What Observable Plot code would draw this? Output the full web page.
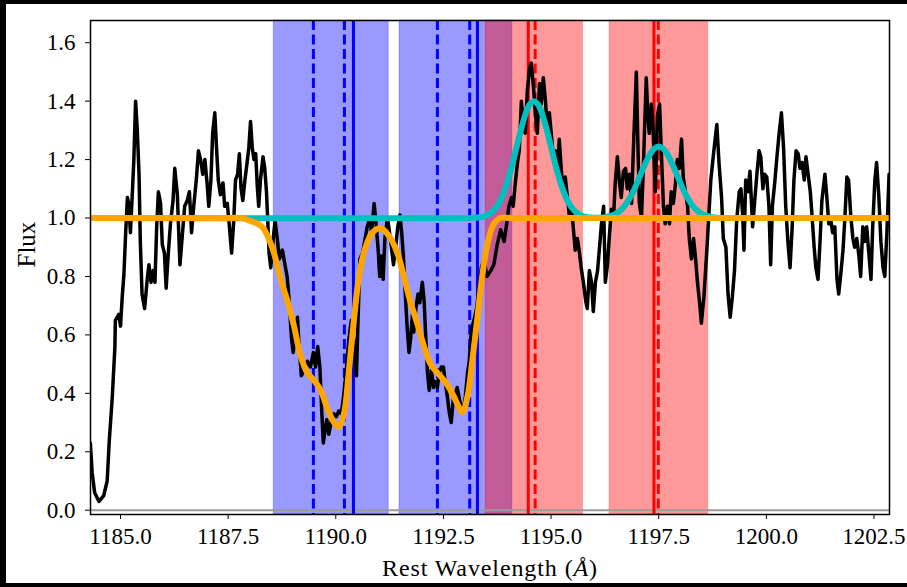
<!DOCTYPE html>
<html><head><meta charset="utf-8">
<script src="https://cdn.jsdelivr.net/npm/d3@7"></script>
<script src="https://cdn.jsdelivr.net/npm/@observablehq/plot@0.6"></script>
<style>
html,body{margin:0;padding:0;background:#000;}
body{width:907px;height:587px;overflow:hidden;position:relative;}
#chart{position:absolute;left:6px;top:4px;width:901px;height:579px;background:#fff;}
#chart svg{display:block;}
#chart svg, #chart svg text, #chart svg g{font-family:'Liberation Serif','Times New Roman',serif !important;}
</style></head><body><div id="chart"></div>
<script>
// Observed spectrum
const specWave = [1184.30,1184.34,1184.40,1184.50,1184.61,1184.69,1184.74,1184.81,1184.87,1184.88,1184.96,1185.00,1185.04,1185.08,1185.12,1185.16,1185.19,1185.23,1185.27,1185.31,1185.35,1185.39,1185.43,1185.46,1185.50,1185.56,1185.62,1185.66,1185.71,1185.76,1185.80,1185.84,1185.88,1185.93,1185.97,1186.02,1186.06,1186.11,1186.16,1186.22,1186.26,1186.32,1186.38,1186.43,1186.49,1186.55,1186.60,1186.65,1186.70,1186.76,1186.81,1186.86,1186.91,1186.96,1187.01,1187.05,1187.10,1187.14,1187.19,1187.23,1187.27,1187.32,1187.38,1187.42,1187.48,1187.53,1187.58,1187.63,1187.67,1187.72,1187.76,1187.80,1187.84,1187.89,1187.94,1187.98,1188.02,1188.06,1188.10,1188.14,1188.18,1188.21,1188.25,1188.31,1188.35,1188.39,1188.42,1188.45,1188.49,1188.54,1188.59,1188.64,1188.69,1188.76,1188.82,1188.87,1188.91,1188.97,1189.01,1189.07,1189.11,1189.14,1189.20,1189.26,1189.34,1189.41,1189.48,1189.53,1189.58,1189.63,1189.67,1189.71,1189.75,1189.79,1189.84,1189.90,1189.96,1190.01,1190.07,1190.13,1190.19,1190.25,1190.30,1190.36,1190.42,1190.48,1190.51,1190.56,1190.62,1190.67,1190.73,1190.79,1190.83,1190.89,1190.93,1190.98,1191.02,1191.06,1191.10,1191.14,1191.20,1191.24,1191.29,1191.34,1191.39,1191.44,1191.49,1191.53,1191.57,1191.61,1191.66,1191.70,1191.74,1191.78,1191.81,1191.86,1191.91,1191.95,1192.01,1192.05,1192.09,1192.13,1192.17,1192.22,1192.27,1192.31,1192.36,1192.40,1192.45,1192.50,1192.54,1192.59,1192.64,1192.68,1192.73,1192.78,1192.82,1192.87,1192.92,1192.96,1193.01,1193.06,1193.10,1193.15,1193.21,1193.27,1193.32,1193.38,1193.44,1193.51,1193.60,1193.67,1193.75,1193.83,1193.91,1193.97,1194.02,1194.08,1194.12,1194.17,1194.22,1194.26,1194.31,1194.36,1194.40,1194.45,1194.50,1194.54,1194.59,1194.64,1194.68,1194.73,1194.77,1194.82,1194.87,1194.91,1194.96,1195.01,1195.05,1195.10,1195.15,1195.19,1195.24,1195.29,1195.33,1195.38,1195.43,1195.47,1195.52,1195.56,1195.61,1195.66,1195.70,1195.75,1195.80,1195.84,1195.89,1195.94,1195.98,1196.03,1196.08,1196.12,1196.17,1196.22,1196.26,1196.31,1196.35,1196.40,1196.45,1196.49,1196.54,1196.59,1196.63,1196.68,1196.73,1196.77,1196.82,1196.87,1196.91,1196.98,1197.02,1197.05,1197.10,1197.14,1197.21,1197.25,1197.28,1197.33,1197.37,1197.42,1197.47,1197.52,1197.56,1197.61,1197.65,1197.70,1197.75,1197.79,1197.84,1197.89,1197.93,1197.98,1198.03,1198.07,1198.12,1198.17,1198.21,1198.26,1198.31,1198.35,1198.40,1198.45,1198.49,1198.55,1198.63,1198.71,1198.78,1198.85,1198.90,1198.96,1199.00,1199.06,1199.11,1199.16,1199.21,1199.26,1199.31,1199.37,1199.41,1199.45,1199.48,1199.52,1199.57,1199.62,1199.68,1199.73,1199.78,1199.83,1199.87,1199.92,1199.96,1200.01,1200.06,1200.10,1200.14,1200.20,1200.24,1200.29,1200.35,1200.40,1200.45,1200.50,1200.55,1200.60,1200.64,1200.69,1200.74,1200.78,1200.83,1200.88,1200.92,1200.97,1201.02,1201.06,1201.11,1201.15,1201.20,1201.25,1201.29,1201.36,1201.40,1201.45,1201.50,1201.54,1201.59,1201.64,1201.68,1201.73,1201.78,1201.82,1201.87,1201.91,1201.96,1202.01,1202.05,1202.10,1202.15,1202.19,1202.24,1202.29,1202.33,1202.38,1202.43,1202.47,1202.52,1202.56,1202.61,1202.66,1202.71,1202.75,1202.80,1202.85];
const specFlux = [0.23,0.13,0.06,0.03,0.05,0.10,0.24,0.39,0.56,0.65,0.67,0.63,0.73,0.81,0.95,1.07,1.05,0.95,1.07,1.20,1.40,1.30,1.15,0.92,0.74,0.69,0.79,0.84,0.78,0.82,0.78,0.97,1.09,1.05,0.91,0.88,0.76,0.88,0.98,1.06,1.17,1.08,0.84,0.93,1.04,1.06,1.09,0.95,1.04,1.13,1.23,1.20,1.15,1.20,1.12,1.04,1.13,1.29,1.36,1.24,1.13,1.08,1.12,1.04,1.05,0.97,0.88,0.99,1.13,1.15,1.22,1.10,1.06,1.13,1.19,1.24,1.33,1.24,1.20,1.22,1.10,1.04,1.13,1.21,1.17,1.09,0.99,0.88,0.83,0.92,0.99,0.93,0.86,0.89,0.84,0.80,0.73,0.59,0.54,0.61,0.66,0.58,0.46,0.48,0.51,0.49,0.54,0.49,0.56,0.49,0.35,0.23,0.27,0.31,0.26,0.31,0.33,0.32,0.34,0.33,0.40,0.49,0.58,0.65,0.58,0.46,0.62,0.86,0.88,0.92,0.97,1.00,0.95,1.05,0.99,0.90,0.80,0.87,0.79,0.93,1.00,0.96,0.90,0.84,0.90,0.97,1.01,0.95,0.87,0.75,0.62,0.54,0.59,0.67,0.61,0.69,0.74,0.71,0.78,0.72,0.59,0.47,0.41,0.48,0.42,0.44,0.42,0.47,0.49,0.49,0.44,0.39,0.33,0.30,0.38,0.40,0.42,0.38,0.35,0.34,0.39,0.47,0.51,0.62,0.65,0.69,0.75,0.83,0.86,0.80,0.82,0.84,0.91,0.96,0.92,0.98,1.04,1.07,1.04,1.12,1.19,1.23,1.40,1.32,1.29,1.44,1.51,1.53,1.45,1.35,1.29,1.46,1.39,1.48,1.40,1.31,1.36,1.28,1.21,1.23,1.15,1.27,1.16,1.09,1.14,1.07,1.00,1.04,0.96,0.89,0.93,0.88,0.83,0.78,0.72,0.69,0.82,0.78,0.68,0.78,0.82,0.89,0.98,1.04,0.78,0.84,0.93,1.03,1.00,1.12,1.21,1.12,1.07,1.16,1.17,1.10,1.15,1.05,1.23,1.50,1.23,1.05,1.00,1.16,1.48,1.35,1.29,1.39,1.30,1.09,1.35,1.39,1.23,1.04,0.98,1.04,0.98,1.09,1.05,1.12,1.20,1.17,1.27,1.14,1.09,1.04,0.93,0.86,0.93,0.87,0.78,0.71,0.64,0.73,0.92,1.13,1.23,1.32,1.19,1.07,0.93,0.90,0.74,0.66,0.73,0.82,0.99,1.09,1.10,1.01,0.89,1.13,1.09,1.16,0.97,1.06,1.15,1.23,1.21,1.10,1.15,1.14,1.04,0.84,1.04,1.13,1.20,1.28,1.36,1.24,1.04,0.92,0.83,0.97,1.13,1.23,1.22,1.17,1.19,1.13,1.21,1.15,1.09,1.01,0.90,0.83,0.79,0.93,1.06,1.15,1.08,0.98,0.99,0.95,0.97,0.79,0.74,0.81,0.89,0.99,1.14,1.13,1.01,0.93,0.90,0.93,0.87,0.80,0.97,0.92,0.97,0.88,0.79,0.97,1.13,1.19,1.08,0.92,0.83,0.80,0.95,1.15];

// Absorption model (orange)
const absWave = [1184.30,1187.50,1187.79,1188.02,1188.29,1188.52,1188.76,1188.87,1189.03,1189.18,1189.34,1189.49,1189.65,1189.80,1189.96,1190.07,1190.19,1190.30,1190.42,1190.54,1190.69,1190.85,1191.04,1191.23,1191.43,1191.58,1191.74,1191.89,1192.05,1192.20,1192.36,1192.51,1192.67,1192.82,1192.94,1193.06,1193.17,1193.29,1193.40,1193.52,1193.67,1193.83,1194.10,1202.86];
const absFlux = [1.00,1.00,1.00,0.99,0.97,0.90,0.77,0.72,0.63,0.53,0.47,0.445,0.41,0.35,0.30,0.285,0.33,0.47,0.65,0.80,0.90,0.95,0.965,0.94,0.88,0.80,0.71,0.64,0.56,0.50,0.47,0.445,0.41,0.365,0.335,0.39,0.51,0.66,0.80,0.91,0.98,1.00,1.00,1.00];

// Emission model (cyan)
const emiWave = [1184.30,1193.10,1193.20,1193.30,1193.40,1193.50,1193.60,1193.70,1193.80,1193.90,1194.00,1194.10,1194.20,1194.30,1194.40,1194.50,1194.60,1194.70,1194.80,1194.90,1195.00,1195.10,1195.20,1195.30,1195.40,1195.50,1195.60,1195.70,1195.80,1195.90,1196.00,1196.10,1196.20,1196.30,1196.40,1196.50,1196.60,1196.70,1196.80,1196.90,1197.00,1197.10,1197.20,1197.30,1197.40,1197.50,1197.60,1197.70,1197.80,1197.90,1198.00,1198.10,1198.20,1198.30,1198.40,1198.50,1198.60,1198.70,1198.80,1198.90,1202.86];
const emiFlux = [1.000,1.000,1.001,1.002,1.004,1.009,1.018,1.032,1.054,1.087,1.130,1.183,1.243,1.302,1.353,1.388,1.400,1.388,1.353,1.302,1.243,1.183,1.130,1.087,1.054,1.032,1.018,1.009,1.004,1.002,1.001,1.001,1.002,1.004,1.008,1.014,1.025,1.040,1.061,1.088,1.121,1.156,1.190,1.219,1.238,1.245,1.238,1.219,1.190,1.156,1.121,1.088,1.061,1.040,1.025,1.014,1.008,1.004,1.002,1.001,1.000];

// Shaded windows
const blueLo = [1188.56, 1191.48];
const blueHi = [1191.23, 1194.10];
const redLo = [1193.48, 1196.36];
const redHi = [1195.74, 1198.65];

// Line markers
const blueSolid = [1190.41, 1193.29];
const blueDashed = [1189.48, 1190.20, 1192.36, 1193.11];
const redSolid = [1194.47, 1197.39];
const redDashed = [1194.63, 1197.49];

const xTicks = [1185.0, 1187.5, 1190.0, 1192.5, 1195.0, 1197.5, 1200.0, 1202.5];
const yTicks = [0.0, 0.2, 0.4, 0.6, 0.8, 1.0, 1.2, 1.4, 1.6];

const spec = specWave.map((w, i) => ({w, f: specFlux[i]}));
const absM = absWave.map((w, i) => ({w, f: absFlux[i]}));
const emiM = emiWave.map((w, i) => ({w, f: emiFlux[i]}));
const blueBands = blueLo.map((lo, i) => ({lo, hi: blueHi[i]}));
const redBands = redLo.map((lo, i) => ({lo, hi: redHi[i]}));

const serif = "'Liberation Serif', 'Times New Roman', serif";
const plot = Plot.plot({
  width: 901, height: 579,
  marginLeft: 84, marginRight: 18, marginTop: 16, marginBottom: 69,
  style: {fontFamily: serif, fontSize: "23px", background: "#fff", color: "#000"},
  x: {domain: [1184.303, 1202.86]},
  y: {domain: [-0.0147, 1.676]},
  marks: [
    Plot.rect(blueBands, {x1: "lo", x2: "hi", fill: "#0000ff", fillOpacity: 0.4, stroke: "#0000ff", strokeOpacity: 0.25, strokeWidth: 1}),
    Plot.rect(redBands, {x1: "lo", x2: "hi", fill: "#ff0000", fillOpacity: 0.4, stroke: "#ff0000", strokeOpacity: 0.25, strokeWidth: 1}),
    Plot.ruleY([0], {stroke: "#9a9a9a", strokeWidth: 2}),
    Plot.ruleX(blueDashed, {stroke: "#0000ff", strokeWidth: 3, strokeDasharray: "10,4.5"}),
    Plot.ruleX(blueSolid, {stroke: "#0000ff", strokeWidth: 3}),
    Plot.ruleX(redSolid, {stroke: "#ff0000", strokeWidth: 3}),
    Plot.ruleX(redDashed, {stroke: "#ff0000", strokeWidth: 3, strokeDasharray: "10,4.5"}),
    Plot.line(spec, {x: "w", y: "f", stroke: "#000", strokeWidth: 3.5, strokeLinejoin: "round", clip: true}),
    Plot.line(emiM, {x: "w", y: "f", stroke: "#00bfbf", strokeWidth: 6, curve: "catmull-rom", clip: true}),
    Plot.line(absM, {x: "w", y: "f", stroke: "#ffa500", strokeWidth: 6, curve: "catmull-rom", clip: true}),
    Plot.frame({stroke: "#000", strokeWidth: 1.5}),
    Plot.axisX({ticks: xTicks, tickSize: 5, tickPadding: 8, tickFormat: d => d.toFixed(1), label: null, fontSize: 23, fontFamily: serif}),
    Plot.axisY({ticks: yTicks, tickSize: 5, tickPadding: 10, tickFormat: d => d.toFixed(1), label: null, fontSize: 23, fontFamily: serif}),
    Plot.text(["Rest Wavelength (Å)"], {frameAnchor: "bottom", dy: 61.5, lineAnchor: "bottom", fontSize: 24, fontFamily: serif}),
    Plot.text(["Flux"], {frameAnchor: "left", dx: -56, rotate: -90, lineAnchor: "bottom", fontSize: 25, fontFamily: serif})
  ]
});
document.getElementById("chart").appendChild(plot);
d3.select(plot).selectAll("text").filter(function () { return this.textContent === "Rest Wavelength (Å)"; })
  .each(function () {
    const t = d3.select(this);
    t.style("letter-spacing", "0.9px");
    t.text(null);
    t.append("tspan").text("Rest Wavelength (");
    t.append("tspan").attr("font-style", "italic").text("Å");
    t.append("tspan").text(")");
  });
</script></body></html>
